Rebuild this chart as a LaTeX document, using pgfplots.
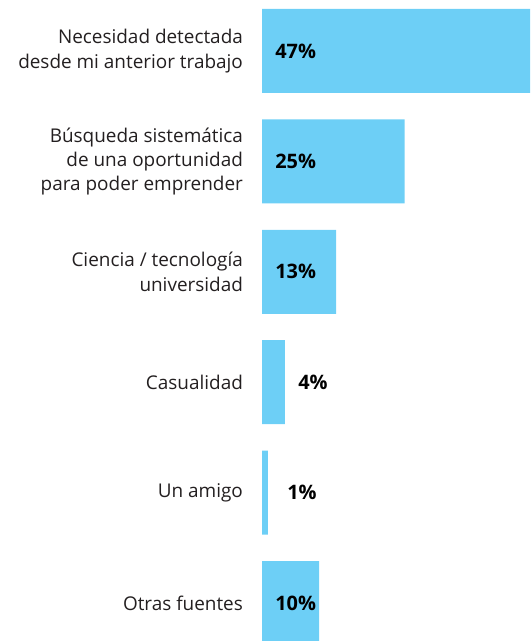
\documentclass[border=0pt]{standalone}
\usepackage{fontspec}
\setmainfont{Open Sans}
\usepackage{pgfplots}
\pgfplotsset{compat=1.18}
\definecolor{barblue}{HTML}{6DCFF6}
\definecolor{labelgray}{HTML}{231F20}

\begin{document}
\begin{tikzpicture}
\begin{axis}[
  scale only axis,
  width=530bp, height=641bp,
  xmin=-45.95, xmax=47,
  ymin=-0.344, ymax=5.462,
  axis line style={draw=none},
  major tick length=0pt,
  xtick=\empty,
  ytick={0,1,2,3,4,5},
  yticklabels={
    {Otras fuentes},
    {Un amigo},
    {Casualidad},
    {Ciencia / tecnología\\universidad},
    {Búsqueda sistemática\\de una oportunidad\\para poder emprender},
    {Necesidad detectada\\desde mi anterior trabajo}},
  yticklabel style={anchor=east, inner sep=0pt, xshift=243bp, align=right,
    font=\fontsize{19}{24.3}\selectfont, text=labelgray},
]
% bars
\addplot[xbar, bar width=84bp, fill=barblue, draw=none]
  coordinates {(10,0) (1,1) (4,2) (13,3) (25,4) (47,5)};
% value labels
\addplot[draw=none, mark=none, point meta=explicit symbolic,
  nodes near coords={\pgfplotspointmeta\%},
  every node near coord/.append style={anchor=west, inner sep=0pt,
    font=\fontsize{20}{24}\selectfont\bfseries, text=black}]
  coordinates {(2.28,0) [10] (4.38,1) [1] (6.31,2) [4] (2.28,3) [13] (2.28,4) [25] (2.28,5) [47]};
\end{axis}
\end{tikzpicture}
\end{document}
